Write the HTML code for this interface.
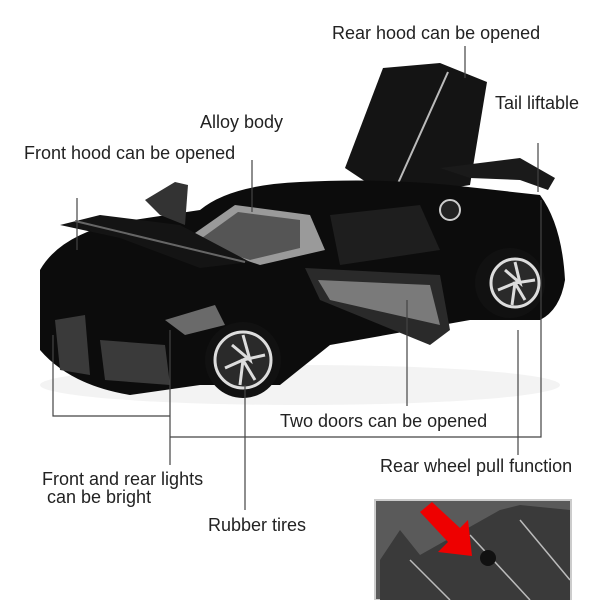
<!DOCTYPE html>
<html><head><meta charset="utf-8"><style>
html,body{margin:0;padding:0;background:#fff;width:600px;height:600px;overflow:hidden}
svg{display:block}
text{font-family:"Liberation Sans",Arial,sans-serif;font-size:18px;fill:#222}
</style></head><body>
<svg width="600" height="600" viewBox="0 0 600 600" xmlns="http://www.w3.org/2000/svg">
<rect width="600" height="600" fill="#fff"/>
<ellipse cx="300" cy="385" rx="260" ry="20" fill="#f3f3f3"/>
<!-- rear hood flap -->
<polygon points="345,168 383,68 440,63 487,82 470,185 390,198" fill="#141414"/>
<line x1="448" y1="72" x2="395" y2="190" stroke="#bbb" stroke-width="2"/>
<!-- spoiler -->
<polygon points="440,168 520,158 555,178 548,190 520,180 470,178" fill="#1a1a1a"/>
<!-- main body -->
<path d="M40,270 Q60,235 120,222 L200,210 Q230,185 300,182 Q380,178 450,185 L540,195 Q562,225 565,280 Q560,310 540,320 L470,320 L330,345 L280,385 L200,385 L130,395 Q70,385 40,350 Z" fill="#0c0c0c"/>
<polygon points="185,240 235,205 310,215 325,250 260,265" fill="#9a9a9a"/>
<polygon points="195,243 238,212 300,220 300,248 250,260" fill="#555"/>
<polygon points="305,268 440,275 450,330 430,345 320,300" fill="#2a2a2a"/>
<polygon points="318,280 430,285 440,325 330,300" fill="#7a7a7a"/>
<polygon points="330,215 420,205 440,250 340,265" fill="#1e1e1e"/>
<polygon points="60,225 100,215 180,225 250,262 200,268 120,238" fill="#141414"/>
<line x1="75" y1="221" x2="245" y2="262" stroke="#666" stroke-width="2"/>
<polygon points="145,200 175,182 188,185 185,225 160,215" fill="#333"/>
<polygon points="55,320 85,315 90,375 60,370" fill="#3a3a3a"/>
<polygon points="100,340 165,345 170,385 105,380" fill="#3a3a3a"/>
<polygon points="165,320 215,305 225,325 185,335" fill="#6a6a6a"/>
<circle cx="243" cy="360" r="38" fill="#111"/>
<circle cx="243" cy="360" r="28" fill="#2a2a2a" stroke="#ddd" stroke-width="3"/>
<path d="M243,335 L250,360 L232,345 M265,355 L243,360 L255,380 M225,368 L243,360 L240,385" stroke="#ddd" stroke-width="3" fill="none"/>
<circle cx="510" cy="283" r="35" fill="#111"/>
<circle cx="515" cy="283" r="24" fill="#2a2a2a" stroke="#ddd" stroke-width="3"/>
<path d="M515,262 L520,283 L505,270 M535,280 L515,283 L525,300 M498,290 L515,283 L512,305" stroke="#ddd" stroke-width="3" fill="none"/>
<circle cx="450" cy="210" r="10" fill="#222" stroke="#ccc" stroke-width="2"/>
<g stroke="#444" stroke-width="1.2" fill="none">
<line x1="465" y1="46" x2="465" y2="78"/>
<line x1="538" y1="143" x2="538" y2="192"/>
<line x1="252" y1="160" x2="252" y2="212"/>
<line x1="77" y1="198" x2="77" y2="250"/>
<polyline points="53,335 53,416 170,416"/>
<polyline points="170,330 170,465"/>
<polyline points="170,437 541,437 541,200"/>
<line x1="518" y1="330" x2="518" y2="455"/>
<line x1="407" y1="300" x2="407" y2="406"/>
<line x1="245" y1="385" x2="245" y2="510"/>
</g>
<text x="332" y="39">Rear hood can be opened</text>
<text x="495" y="109">Tail liftable</text>
<text x="200" y="128">Alloy body</text>
<text x="24" y="159">Front hood can be opened</text>
<text x="280" y="427">Two doors can be opened</text>
<text x="380" y="472">Rear wheel pull function</text>
<text x="42" y="485">Front and rear lights</text>
<text x="47" y="503">can be bright</text>
<text x="208" y="531">Rubber tires</text>
<rect x="375" y="500" width="196" height="100" fill="#5a5a5a" stroke="#ccc" stroke-width="2"/>
<polygon points="380,560 400,530 420,555 500,510 520,505 570,510 570,600 380,600" fill="#3a3a3a"/>
<g stroke="#bbb" stroke-width="1.5"><line x1="410" y1="560" x2="450" y2="600"/><line x1="470" y1="535" x2="530" y2="600"/><line x1="520" y1="520" x2="570" y2="580"/></g>
<circle cx="488" cy="558" r="8" fill="#111"/>
<polygon points="420,512 432,502 460,528 468,520 472,556 438,552 448,542" fill="#e00"/>
</svg>
</body></html>
